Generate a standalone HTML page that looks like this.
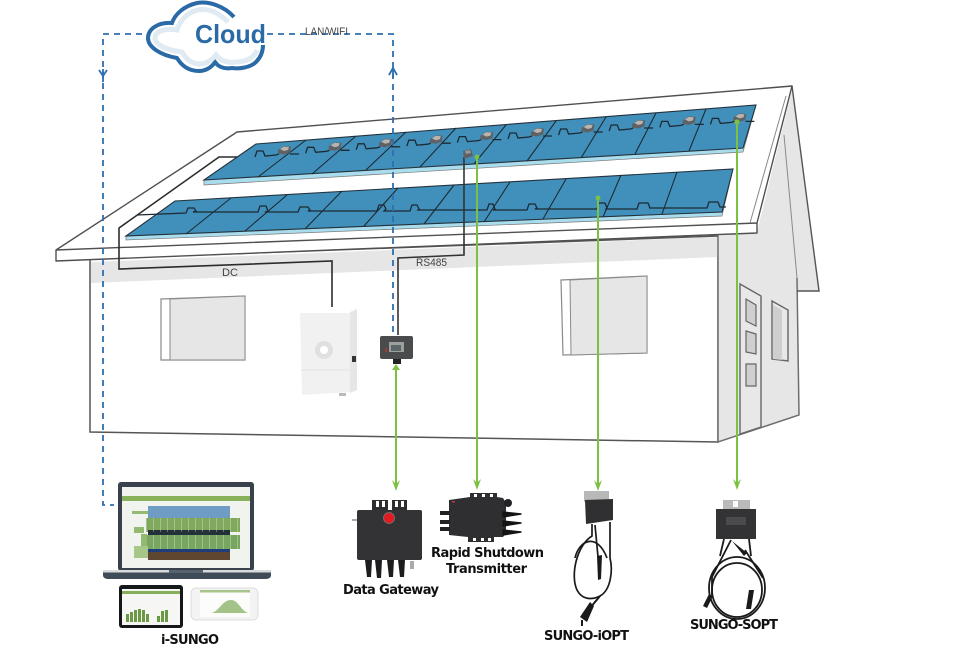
<!DOCTYPE html>
<html><head><meta charset="utf-8"><style>
html,body{margin:0;padding:0;background:#fff;width:960px;height:659px;overflow:hidden}
svg{display:block}
.lb{font-family:"DejaVu Sans",sans-serif;font-weight:700;font-size:13px;fill:#111}
.sm{font-family:"Liberation Sans",sans-serif;font-size:11px;fill:#444}
</style></head><body>
<svg width="960" height="659" viewBox="0 0 960 659" xmlns="http://www.w3.org/2000/svg">
<defs>
<g id="seg" fill="none">
<path d="M255 157l2-6 6 0 2 5 11-1 3-1M290 154l9 0" stroke="#1e2a33" stroke-width="1.3"/>
<path d="M278 150l6-4 7 .5-1 6-6 2-6-1z" fill="#5f6265"/>
<path d="M280 149l4-2.5 5 .5-1 3-4 1z" fill="#b8b4b0"/>
</g>
</defs>

<!-- wall -->
<path d="M90 259L718 236V442L90 432Z" fill="#fff" stroke="#555" stroke-width="1.5"/>
<path d="M91 262L718 237V257L91 283Z" fill="#e6e6e6"/>
<path d="M718 236L757 232L792 90L820 291H797L799 415L718 442Z" fill="#e6e6e6"/>
<path d="M718 236V442L799 415L797 278" fill="none" stroke="#6e6e6e" stroke-width="1.5"/>
<path d="M792 86L819 291H797" fill="none" stroke="#555" stroke-width="1.4"/>
<path d="M784 135L797 278" fill="none" stroke="#8a8a8a" stroke-width="1"/>

<!-- door and window -->
<path d="M740 284L761 296V427L740 434Z" fill="#e8e8e8" stroke="#666" stroke-width="1.4"/>
<path d="M746 299L756 305V326L746 321ZM746 331L756 334V354L746 352ZM746 364H756V386H746Z" fill="#cfcfcf" stroke="#666" stroke-width="1.2"/>
<path d="M772 301L788 310V361L772 359Z" fill="#e8e8e8" stroke="#666" stroke-width="1.4"/>
<path d="M773 305L782 310V360L773 359Z" fill="#cfcfcf"/>

<!-- wall windows -->
<path d="M161 299L245 296V360H161Z" fill="#fff" stroke="#8a8a8a" stroke-width="1.2"/>
<path d="M170 299L245 296V360H170Z" fill="#e6e6e6" stroke="#8a8a8a" stroke-width="1"/>
<path d="M561 280L647 276V353L563 355Z" fill="#fff" stroke="#8a8a8a" stroke-width="1.2"/>
<path d="M570 280L647 276V353L571 355Z" fill="#e6e6e6" stroke="#8a8a8a" stroke-width="1"/>

<!-- roof -->
<path d="M56 250L237 132L792 86L757 223V233L56 261Z" fill="#fff"/>
<path d="M56 261V250L237 132L792 86L757 223V233ZM56 250L757 223" fill="none" stroke="#505050" stroke-width="1.4" stroke-linejoin="round"/>
<path d="M786 96L750 223" fill="none" stroke="#888" stroke-width="1"/>

<!-- DC wiring -->
<path d="M332 307V261L119 269V228L219 157H250" fill="none" stroke="#2c2c2c" stroke-width="1.6"/>

<!-- top panel -->
<path d="M204 180V185L743 152L756 105L743 148Z" fill="#a9dcec" stroke="#777" stroke-width=".7"/>
<path d="M204 180L256 144L756 105L743 148Z" fill="#4190bb" stroke="#24323c" stroke-width="1.1"/>
<path d="M306 140L258 177M356 136L312 174M406 132L366 170M456 128L420 167M506 125L474 164M556 121L527 161M606 117L581 158M656 113L635 154M706 109L689 151" stroke="#1e2a33" stroke-width="1.1" fill="none"/>
<use href="#seg"/>
<use href="#seg" transform="translate(50.6 -3.7)"/>
<use href="#seg" transform="translate(101.2 -7.2)"/>
<use href="#seg" transform="translate(151.8 -10.8)"/>
<use href="#seg" transform="translate(202.4 -14.4)"/>
<use href="#seg" transform="translate(253 -18)"/>
<use href="#seg" transform="translate(303.6 -22)"/>
<use href="#seg" transform="translate(354.2 -26)"/>
<use href="#seg" transform="translate(404.8 -29.6)"/>
<use href="#seg" transform="translate(455.4 -32.6)"/>

<!-- bottom panel -->
<path d="M126 236V240L722 216L733 169L722 212Z" fill="#a9dcec" stroke="#777" stroke-width=".7"/>
<path d="M126 236L175 201L733 169L722 212Z" fill="#4190bb" stroke="#24323c" stroke-width="1.1"/>
<path d="M231 198L186 234M287 195L245 231M342 191L305 229M398 188L364 226M454 185L424 224M510 182L484 222M566 179L543 219M621 175L603 217M677 172L662 214" stroke="#1e2a33" stroke-width="1.1" fill="none"/>
<path d="M137 215L186 213l2-5h6l2 3-3 1H258l2-6h6l2 5-3 1H298l2-5h8l2 3-2 1H377l2-6h5l2 4-2 2H410l2-6h5l2 4-1 1H487l2-6h4l2 5-2 1H527l2-6h6l2 4-2 1H597l2-6h6l2 5-1 1H637l2-6h9l2 5-1 0H707l2-6h9l2 5h6" fill="none" stroke="#1e2a33" stroke-width="1.3"/>

<!-- RS485 wiring -->
<path d="M464 157V255L398 258V335" fill="none" stroke="#333" stroke-width="1.6"/>
<path d="M463 151L471 149L473 156L464 159Z" fill="#5e6064"/>
<path d="M465 151L470 150L471 153L466 154Z" fill="#98999b"/>

<!-- blue dashed -->
<g fill="none" stroke="#2e6fb0" stroke-width="1.8">
<path d="M393 332V34H266" stroke-dasharray="6 5"/>
<path d="M142 34H103V505H114" stroke-dasharray="6 5"/>
<path d="M99 70L103 76L107 70M103 69V82"/>
<path d="M389 75L393 68L397 75M393 68V78"/>
</g>

<!-- cloud -->
<path d="M234 17C224 6 209 1 197 3C184 6 175 14 172 23C158 22 148 29 148 38C148 47 160 55 177 58C183 68 191 71 199 71C206 71 212 67 215 62C219 68 226 69 232 68C238 69 250 68 256 62C261 57 263 51 263 45" fill="#fff" stroke="#2a6aa6" stroke-width="4"/>
<path d="M228 22C218 12 208 8 198 10C188 12 180 20 177 30C165 28 155 31 155 38C155 45 167 50 182 52C187 61 194 64 200 64C206 64 212 60 216 55C221 62 230 63 236 62C246 62 254 58 257 50" fill="none" stroke="#dfeaf3" stroke-width="5"/>
<text x="195" y="43" font-family="Liberation Sans,sans-serif" font-weight="700" font-size="26" fill="#2a6aa6" textLength="71" lengthAdjust="spacingAndGlyphs">Cloud</text>
<text class="sm" x="305" y="35" textLength="43" lengthAdjust="spacingAndGlyphs">LAN/WIFI</text>
<text class="sm" x="222" y="276" textLength="16" lengthAdjust="spacingAndGlyphs">DC</text>
<text class="sm" x="416" y="266" textLength="31" lengthAdjust="spacingAndGlyphs">RS485</text>

<!-- inverter -->
<path d="M300 313H350L357 309V390L350 392L302 395Z" fill="#f1f1f1"/>
<path d="M350 312L357 309V390L350 393Z" fill="#e6e6e6"/>
<circle cx="324" cy="350" r="9" fill="#e0e0e0"/><circle cx="324" cy="350" r="4" fill="#fff"/>
<path d="M301 370H350" stroke="#e2e2e2"/>
<rect x="352" y="356" width="4" height="6" fill="#333"/>
<rect x="339" y="393" width="7" height="3" fill="#bbb"/>

<!-- gateway box -->
<rect x="380" y="336" width="33" height="23" rx="2" fill="#4a4b4d"/>
<rect x="389" y="342" width="15" height="10" fill="#9aa09c"/>
<rect x="391" y="345" width="10" height="6" fill="#5f666b"/>
<rect x="385" y="348" width="2" height="4" fill="#a03c35"/>
<rect x="393" y="359" width="8" height="5" fill="#222"/>

<!-- green links -->
<g stroke="#7cc142" stroke-width="2" fill="none">
<path d="M396 366V486"/><path d="M477 157V485"/><path d="M598 197V486"/><path d="M737 122V485"/>
</g>
<g fill="#7cc142">
<path d="M392 480L396 491L400 480L396 484Z"/><path d="M473 479L477 490L481 479L477 483Z"/>
<path d="M594 480L598 491L602 480L598 484Z"/><path d="M733 479L737 490L741 479L737 483Z"/>
<circle cx="477" cy="157" r="2.4"/><circle cx="598" cy="198" r="2.4"/><circle cx="737" cy="122" r="2.6"/>
<path d="M392 370L396 364L400 370Z"/>
</g>

<!-- laptop -->
<rect x="118" y="482" width="136" height="89" rx="3" fill="#39424c"/>
<rect x="122" y="487" width="128" height="81" fill="#f1f3ee"/>
<rect x="122" y="496" width="128" height="5" fill="#88b15a"/>
<rect x="148" y="506" width="82" height="12" fill="#6f9cc4"/>
<rect x="132" y="511" width="16" height="3" fill="#93ba70"/>
<rect x="146" y="518" width="94" height="14" fill="#80a95e"/>
<rect x="148" y="530" width="82" height="5" fill="#22303a"/>
<rect x="146" y="535" width="94" height="14" fill="#78a560"/>
<rect x="148" y="549" width="82" height="3" fill="#1f3d7a"/>
<rect x="148" y="552" width="82" height="8" fill="#5e4630"/>
<path d="M146 525H240M146 542H240" stroke="#e8f0dd" stroke-width="14" stroke-dasharray="1 6" opacity=".35"/>
<rect x="134" y="527" width="10" height="6" fill="#93ba70"/><rect x="141" y="534" width="6" height="12" fill="#93ba70"/>
<rect x="134" y="546" width="14" height="12" fill="#a6c788"/>
<path d="M103 570H271V575Q271 579 265 579H109Q103 579 103 575Z" fill="#3f4b56"/>
<rect x="103" y="570" width="168" height="2.5" fill="#d8dadc"/>
<rect x="169" y="570" width="34" height="3" fill="#56626d"/>

<!-- tablet -->
<rect x="119" y="585" width="64" height="43" rx="3" fill="#15171a"/>
<rect x="122" y="589" width="58" height="36" fill="#f6f7f4"/>
<rect x="122" y="591" width="58" height="3" fill="#86ad5a"/>
<path d="M126 622V614h3v8zM130 622V612h3v10zM134 622V610h3v12zM138 622V609h3v13zM142 622V610h3v12zM146 622V614h3v8zM157 622V616h3v6zM161 622V611h3v11zM165 622V610h3v12z" fill="#6c9a44"/>
<!-- phone -->
<rect x="191" y="588" width="67" height="32" rx="5" fill="#f3f3f3" stroke="#ddd"/>
<rect x="200" y="590" width="50" height="27" fill="#fcfcfa"/>
<rect x="200" y="590" width="50" height="2.5" fill="#a8c48a"/>
<path d="M211 613C219 612 222 600 231 600C239 600 241 612 249 613Z" fill="#a4c389"/>

<!-- data gateway device -->
<path d="M372 510V500H388V510ZM392 510V500H407V510Z" fill="#2e2e30"/>
<rect x="376" y="501" width="3" height="6" fill="#fff"/><rect x="382" y="501" width="3" height="6" fill="#fff"/>
<rect x="395" y="501" width="3" height="6" fill="#fff"/><rect x="401" y="501" width="3" height="6" fill="#fff"/>
<rect x="357" y="510" width="65" height="50" rx="2" fill="#333335"/>
<circle cx="389" cy="518" r="5.5" fill="#e21b22" stroke="#777" stroke-width=".8"/>
<path d="M365 560H372L371 577H367ZM375 560H382L381 578H377ZM387 560H394L393 577H389ZM398 560H405L404 577H400Z" fill="#1d1d1f"/>
<rect x="410" y="561" width="4" height="8" fill="#aaa"/>
<rect x="352" y="519" width="5" height="2" fill="#aaa"/>

<!-- rsd device -->
<path d="M470 497V493H497V497L503 498L506 503V533L503 537H494V542H468V537L449 535V500Z" fill="#2f2f31"/>
<rect x="474" y="494" width="3" height="3" fill="#fff"/><rect x="482" y="494" width="3" height="3" fill="#fff"/><rect x="490" y="494" width="3" height="3" fill="#fff"/>
<rect x="473" y="538" width="3" height="3" fill="#fff"/><rect x="481" y="538" width="3" height="3" fill="#fff"/><rect x="488" y="538" width="3" height="3" fill="#fff"/>
<path d="M440 511H450V515H440ZM440 520H450V524H440ZM440 527H450V531H440Z" fill="#222"/>
<path d="M503 512L521 514L503 517ZM503 521L521 523L503 526ZM503 530L521 532L503 535Z" fill="#141414" stroke="#141414" stroke-width="1.4" stroke-linejoin="round"/>
<circle cx="508" cy="503" r="4" fill="#232325"/>
<rect x="452" y="501" width="3" height="1.5" fill="#c33"/>

<!-- iopt -->
<rect x="584" y="491" width="25" height="11" fill="#b7b8b7"/>
<path d="M585 500L613 499V520L586 524Z" fill="#303032"/>
<g fill="none" stroke="#1a1a1a" stroke-width="1.7">
<path d="M592 524V536C577 545 570 575 577 590C582 600 592 600 600 596C611 590 613 570 610 558V522"/>
<path d="M575 558C579 540 597 532 607 558"/>
<path d="M595 525L598 557"/>
</g>
<path d="M597 556L602 555L601 579L598 580Z" fill="#1a1a1a"/>
<path d="M600 596L590 608" stroke="#1a1a1a" stroke-width="2"/>
<path d="M590 602L594 606L587 622L580 617Z" fill="#1a1a1a"/>
<path d="M582 620V626" stroke="#1a1a1a" stroke-width="2"/>

<!-- sopt -->
<rect x="723" y="500" width="27" height="10" fill="#b9bab9"/>
<rect x="733" y="501" width="5" height="6" fill="#fff"/>
<rect x="716" y="509" width="40" height="30" fill="#333335"/>
<rect x="726" y="517" width="20" height="8" fill="#4b4b4d"/>
<g fill="none" stroke="#1a1a1a" stroke-width="1.8">
<ellipse cx="737" cy="588" rx="28" ry="31"/>
<ellipse cx="737" cy="590" rx="25" ry="27"/>
<path d="M724 539L720 556M749 539L751 556M731 540L712 577M745 550L763 578"/>
<path d="M712 577L712 595"/>
</g>
<path d="M749 590L754 590L751 609L746 609ZM732 541L747 553L744 556ZM709 594L713 596L707 608L703 606Z" fill="#1a1a1a"/>

<!-- labels -->
<text class="lb" x="161" y="644" textLength="58">i-SUNGO</text>
<text class="lb" x="343" y="594" textLength="96">Data Gateway</text>
<text class="lb" x="431" y="557" textLength="113">Rapid Shutdown</text>
<text class="lb" x="446" y="573" textLength="81">Transmitter</text>
<text class="lb" x="544" y="640" textLength="85">SUNGO-iOPT</text>
<text class="lb" x="690" y="629" textLength="88">SUNGO-SOPT</text>
</svg>
</body></html>
